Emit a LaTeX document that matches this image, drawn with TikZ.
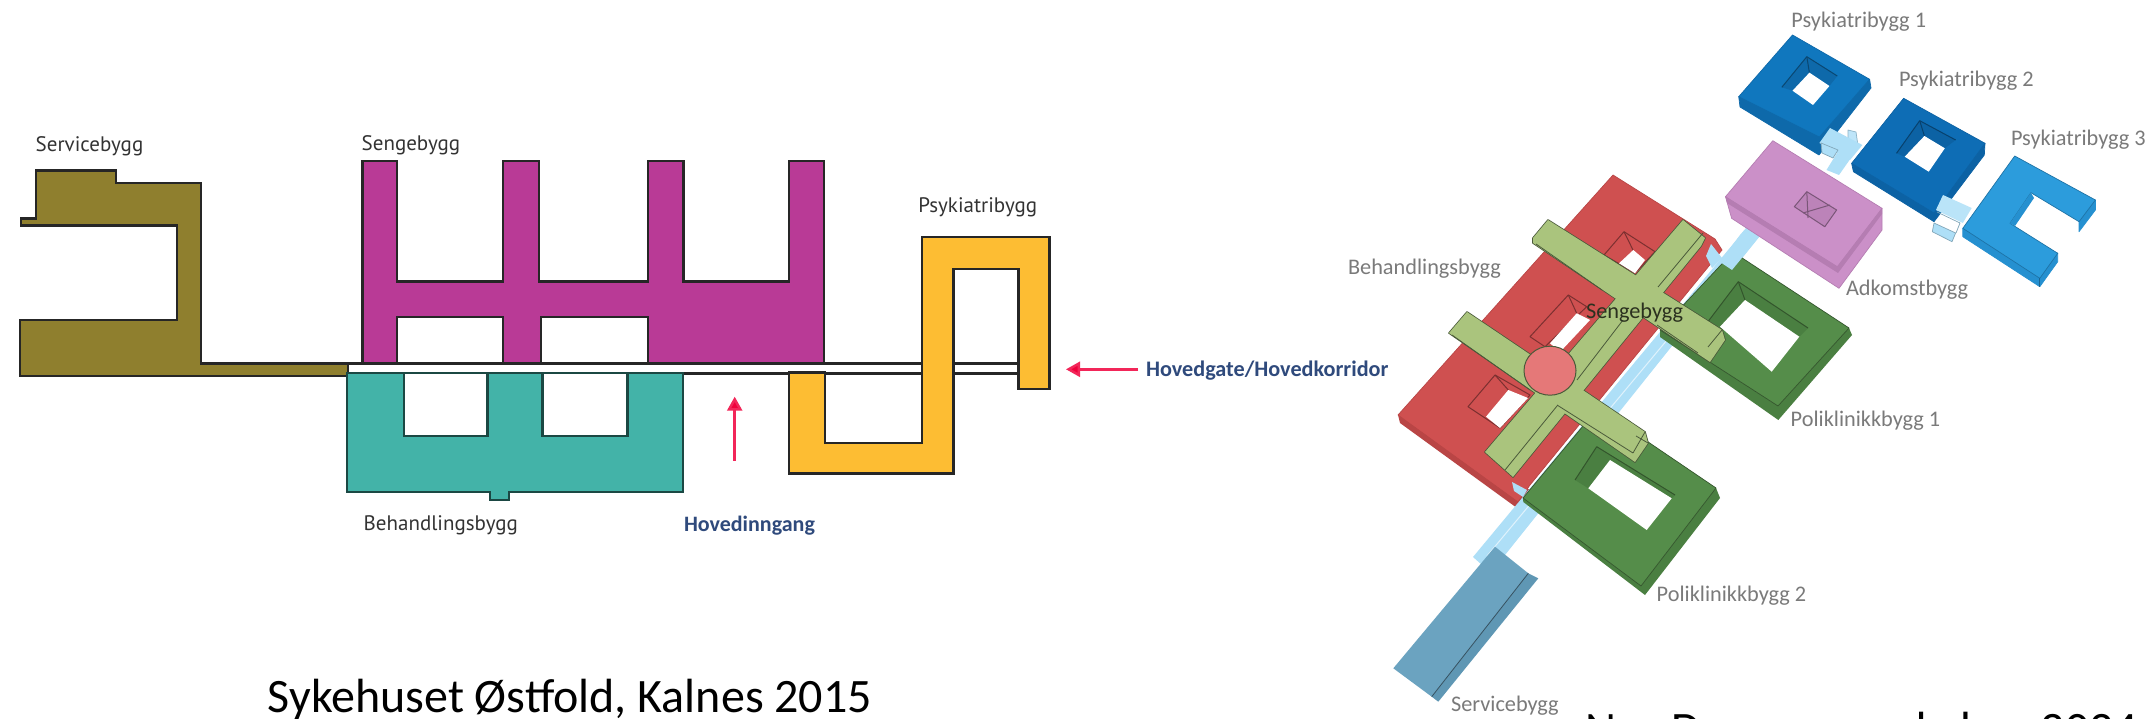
\documentclass[tikz,border=0pt]{standalone}
\usepackage{fontspec}
\setmainfont{Carlito}
\newfontfamily\lblfont{PT Sans}
\usetikzlibrary{arrows.meta}
\definecolor{olivec}{HTML}{8F7F2E}
\definecolor{magc}{HTML}{B93A96}
\definecolor{tealc}{HTML}{43B3A8}
\definecolor{yelc}{HTML}{FDBD33}
\definecolor{arrowc}{HTML}{F0003C}
\definecolor{navyc}{HTML}{2F4A7C}
\definecolor{redc}{HTML}{CF5050}
\definecolor{redd}{HTML}{B94545}
\definecolor{lgreen}{HTML}{AAC47D}
\definecolor{dgreen}{HTML}{558D4A}
\definecolor{dgreens}{HTML}{4A7F41}
\definecolor{pa}{HTML}{1077BE}
\definecolor{pas}{HTML}{0E69AA}
\definecolor{pb}{HTML}{0E6DB5}
\definecolor{pbs}{HTML}{0C62A4}
\definecolor{pc}{HTML}{2C9CDC}
\definecolor{pcs}{HTML}{2590D0}
\definecolor{pinkc}{HTML}{CB90C8}
\definecolor{pinkd}{HTML}{B57DB2}
\definecolor{lblue}{HTML}{AEDFF7}
\definecolor{svc}{HTML}{6BA3C0}
\definecolor{svcs}{HTML}{5F97B4}
\definecolor{circc}{HTML}{E57878}
\definecolor{lineg}{HTML}{4A5A3A}
\tikzset{
  plan/.style={draw=black!85,line width=2.4pt,line join=miter},
  tlab/.style={anchor=base west,inner sep=0pt,outer sep=0pt},
  leftlab/.style={tlab,font=\lblfont\fontsize{21}{24}\selectfont,text=black!80},
  rightlab/.style={tlab,font=\fontsize{22.3}{26}\selectfont,text=black!52},
  captionlab/.style={tlab,font=\fontsize{48}{56}\selectfont,text=black},
  navylab/.style={tlab,font=\bfseries\fontsize{22.2}{26}\selectfont,text=navyc},
  redarrow/.style={draw=arrowc!85!white,line width=2.5pt,-{Triangle[length=14pt,width=15pt,fill=arrowc]}},
  roof/.style={line width=0.7pt,line join=round},
  pitline/.style={draw=black!40!#1,line width=1pt,line join=round},
  hole/.style={fill=white},
}
\begin{document}
\begin{tikzpicture}[x=1pt,y=-1pt]
\useasboundingbox (0,0) rectangle (2152,719);
\clip (0,0) rectangle (2152,719);
\fill[white] (0,0) rectangle (2152,719);

% ------------ left plan ------------
\draw[plan,fill=olivec] (35.7,170.7) -- (116,170.7) -- (116,183.3) -- (200.7,183.3) -- (200.7,363.3) -- (347.7,363.3) -- (347.7,376) -- (20,376) -- (20,320) -- (176.7,320) -- (176.7,225.7) -- (20.7,225.7) -- (20.7,218.7) -- (35.7,218.7) -- cycle;

\draw[plan,fill=magc,even odd rule]
  (362.3,161.3) -- (396.7,161.3) -- (396.7,281.7) -- (503.2,281.7) -- (503.2,161.3) -- (539,161.3) -- (539,281.7) -- (647.9,281.7) -- (647.9,161.3) -- (683.6,161.3) -- (683.6,281.7) -- (789,281.7) -- (789,161.3) -- (824,161.3) -- (824,363.3) -- (362.3,363.3) -- cycle
  (396.7,316.7) rectangle (503.2,363.3)
  (541,316.7) rectangle (647.9,363.3);

% corridor lines
\draw[plan] (347.7,363.3) -- (362.3,363.3);
\draw[plan] (824,363.3) -- (921.7,363.3);
\draw[plan] (953.3,363.3) -- (1018.3,363.3);
\draw[plan] (683,373.3) -- (789,373.3);
\draw[plan] (824.7,373.3) -- (921.7,373.3);
\draw[plan] (953.3,373.3) -- (1018.3,373.3);

\draw[draw=black!60!tealc,line width=2.2pt,fill=tealc,even odd rule]
  (347,373) -- (683,373) -- (683,492.3) -- (508.6,492.3) -- (508.6,500) -- (489.8,500) -- (489.8,492.3) -- (347,492.3) -- cycle
  (403.6,373) rectangle (487.5,435.7)
  (542.5,373) rectangle (627.5,435.7);

\draw[plan,fill=yelc] (921.7,237.3) -- (1049.3,237.3) -- (1049.3,388.7) -- (1018.3,388.7) -- (1018.3,269.3) -- (953.3,269.3) -- (953.3,473.5) -- (789,473.5) -- (789,372.5) -- (824.7,372.5) -- (824.7,443) -- (921.7,443) -- cycle;

\node[leftlab] (lservice) at (35.7,151.7) {Servicebygg};
\node[leftlab] (lsenge) at (361.7,150.7) {Sengebygg};
\node[leftlab] (lpsyk) at (918.3,212.7) {Psykiatribygg};
\node[leftlab] (lbeh) at (363.7,530) {Behandlingsbygg};
\node[navylab,font=\bfseries\fontsize{22}{26}\selectfont] (linng) at (684,531.7) {Hovedinngang};
\node[navylab] (lgate) at (1146,376.7) {Hovedgate/Hovedkorridor};
\coordinate (gatetip) at (1066,369.3);
\coordinate (gatetail) at (1138,369.3);
\coordinate (inntip) at (734.7,396.7);
\coordinate (inntail) at (734.7,460.7);
\draw[redarrow] (gatetail) -- (gatetip);
\draw[redarrow] (inntail) -- (inntip);

\node[captionlab] (capl) at (267.8,712.7) {Sykehuset Østfold, Kalnes 2015};

% ------------ right 3D view ------------
% Behandlingsbygg (red)
\fill[redd] (1398,415) -- (1400,423) -- (1517,508) -- (1530,490) -- cycle;
\draw[roof,draw=redd,fill=redc] (1613,175) -- (1715,239) -- (1722,250) -- (1530,485) -- (1518,502) -- (1398,415) -- cycle;
% red holes
\draw[pitline=redc,fill=redc] (1624,231.7) -- (1655,251.7) -- (1635,273) -- (1604,255) -- cycle;
\draw[pitline=redc] (1624,231.7) -- (1633,250);
\fill[hole] (1633.3,250) -- (1645,260) -- (1635,273.3) -- (1619,263.3) -- cycle;
\draw[pitline=redc,fill=redc] (1568.3,295) -- (1586.7,306.7) -- (1545,346.7) -- (1530,336.7) -- cycle;
\draw[pitline=redc] (1568.3,295) -- (1576.7,313.3);
\fill[hole] (1576.7,313.3) -- (1590,320) -- (1560,352) -- (1550,343.3) -- cycle;
\draw[pitline=redc,fill=redc] (1495,375) -- (1530,395) -- (1500,428) -- (1468,406.7) -- cycle;
\draw[pitline=redc] (1495,375) -- (1508.3,390);
\fill[hole] (1508.3,390) -- (1528,398) -- (1500,428) -- (1486,416.7) -- cycle;

% long corridor
\fill[lblue] (1473,557) -- (1753,220) -- (1759,237) -- (1497,565) -- (1482,565) -- cycle;
\draw[white!60!lblue,line width=1pt] (1487,556) -- (1752,238);
\fill[lblue] (1512,482) -- (1527,490) -- (1523,497) -- (1514,491) -- cycle;
\fill[lblue] (1711,244) -- (1722,258) -- (1712,268) -- (1706,256) -- cycle;

% Poliklinikk 2
\fill[dgreens] (1523,498) -- (1523.3,502) -- (1645,595) -- (1720,498) -- (1716,488) -- (1641,586) -- cycle;
\draw[roof,draw=black!40!dgreen,fill=dgreen] (1598,408) -- (1716,488) -- (1641,586) -- (1523,498) -- cycle;
\fill[dgreens] (1596.7,446.7) -- (1675,495) -- (1671.7,498.3) -- (1610,460) -- (1588.3,488.3) -- (1575,480) -- cycle;
\draw[pitline=dgreen] (1575,480) -- (1596.7,446.7) -- (1675,495);
\fill[hole] (1610,460) -- (1671.7,498.3) -- (1646.7,530) -- (1588.3,488.3) -- cycle;

% Poliklinikk 1
\fill[dgreens] (1660,330) -- (1660,337) -- (1778.3,420) -- (1852,335) -- (1849,328) -- (1778,406) -- cycle;
\draw[roof,draw=black!40!dgreen,fill=dgreen] (1733,252) -- (1849,328) -- (1778,406) -- (1660,330) -- cycle;
\fill[dgreens] (1738.3,281.7) -- (1808,328) -- (1799.3,336.7) -- (1745,300) -- (1720,326.7) -- (1706.7,323.3) -- cycle;
\draw[pitline=dgreen] (1706.7,323.3) -- (1738.3,281.7) -- (1808,328);
\draw[pitline=dgreen] (1738.3,281.7) -- (1745,300);
\fill[hole] (1745,300) -- (1799.3,336.7) -- (1771.7,371.7) -- (1720,326.7) -- cycle;

% Sengebygg (light green cross): outlines first, then fills, so only the outer contour stays
\draw[draw=lineg,line width=1.6pt,line join=round,fill=lgreen]
   (1548,220) -- (1722,330) -- (1725,340) -- (1710,362) -- (1533,243) -- (1533,238) -- cycle;
\draw[draw=lineg,line width=1.6pt,line join=round,fill=lgreen]
   (1683,220) -- (1705,238) -- (1701,246) -- (1513,477) -- (1485,452) -- cycle;
\draw[draw=lineg,line width=1.6pt,line join=round,fill=lgreen]
   (1467,312) -- (1645,432) -- (1648,443) -- (1635,462) -- (1449,333) -- cycle;
\fill[lgreen] (1548,220) -- (1722,330) -- (1725,340) -- (1710,362) -- (1533,243) -- (1533,238) -- cycle;
\fill[lgreen] (1683,220) -- (1705,238) -- (1701,246) -- (1513,477) -- (1485,452) -- cycle;
\fill[lgreen] (1467,312) -- (1645,432) -- (1648,443) -- (1635,462) -- (1449,333) -- cycle;
\draw[draw=lineg,line width=0.8pt]
   (1536,244) -- (1602,290)
   (1657,325) -- (1698,353)
   (1703,233) -- (1658,287)
   (1623,320) -- (1577,380)
   (1557,406) -- (1505,470)
   (1452,335) -- (1530,390)
   (1557,405) -- (1633,453)
   (1648,443) -- (1636,436)
   (1722,330) -- (1708,347)
   (1645,432) -- (1633,453);

% Rotunda
\draw[draw=lineg,line width=1pt,fill=circc] (1550,370.7) ellipse [x radius=26,y radius=24.5];

% Adkomstbygg (pink)
\fill[lblue] (1740,235) -- (1753,220) -- (1759,237) -- (1732,270) -- (1720,262) -- cycle;
\draw[roof,draw=pinkd,fill=pinkc] (1725.5,196.7) -- (1731.6,218.3) -- (1839,288.3) -- (1882,230) -- (1882,208.3) -- (1837.3,266.7) -- cycle;
\draw[roof,draw=pinkd,fill=pinkc] (1772.8,140.7) -- (1882,208.3) -- (1837.3,266.7) -- (1725.5,196.7) -- cycle;
\fill[pinkd] (1725.5,196.7) -- (1837.3,266.7) -- (1882,208.3) -- (1882,214) -- (1838,273) -- (1727,203) -- cycle;
\draw[pitline=pinkc,fill=pinkd!70!pinkc] (1806.8,191.7) -- (1836.6,210) -- (1824.8,226.7) -- (1794.3,206.7) -- cycle;
\draw[pitline=pinkc] (1806.8,191.7) -- (1808,218) (1803,213) -- (1830,205);

% link Psykiatri -> Adkomst
\fill[lblue] (1837,153) -- (1826.5,170) -- (1839,175) -- (1851.6,157) -- cycle;

% Psykiatribygg 1
\draw[roof,draw=pas,fill=pas] (1738.7,96.7) -- (1740,107) -- (1819,155) -- (1871,88) -- (1869.6,79.3) -- (1819.4,137) -- cycle;
\draw[roof,draw=pas,fill=pa] (1792.5,35) -- (1869.6,79.3) -- (1819.4,137) -- (1738.7,96.7) -- cycle;
\fill[pas] (1806.8,56.7) -- (1837.3,76) -- (1829.4,86) -- (1809.4,72.7) -- (1792.5,90.7) -- (1781.8,87.3) -- cycle;
\draw[pitline=pa] (1781.8,87.3) -- (1806.8,56.7) -- (1837.3,76);
\draw[pitline=pa] (1806.8,56.7) -- (1809.4,72.7);
\fill[hole] (1809.4,72.7) -- (1829.4,86) -- (1813,105) -- (1792.5,90.7) -- cycle;

% Psykiatribygg 2
\draw[roof,draw=pbs,fill=pbs] (1851.6,163.3) -- (1853.4,171.7) -- (1934,221.7) -- (1984.3,155) -- (1985,143.3) -- (1934,213) -- cycle;
\draw[roof,draw=pbs,fill=pb] (1903.6,98.3) -- (1985,143.3) -- (1934,213) -- (1851.6,163.3) -- cycle;
\fill[pbs] (1919.7,120.7) -- (1955.6,140) -- (1944.8,148.3) -- (1924.4,136) -- (1904.7,156.7) -- (1896.5,153.3) -- cycle;
\draw[pitline=pb] (1896.5,153.3) -- (1919.7,120.7) -- (1955.6,140);
\draw[pitline=pb] (1919.7,120.7) -- (1924.4,136);
\fill[hole] (1924.4,136) -- (1944.8,148.3) -- (1928.7,171.7) -- (1904.7,156.7) -- cycle;

% links between Psykiatri
\draw[roof,draw=lblue!80!black,fill=lblue!80!white] (1848,130) -- (1856,132) -- (1858,146) -- (1848,142) -- cycle;
\fill[lblue] (1830,128) -- (1862.4,145) -- (1850,160) -- (1819.4,143) -- cycle;
\draw[roof,draw=lblue!75!black,fill=lblue] (1821,143) -- (1838,150) -- (1833,158) -- (1822,153) -- cycle;
\fill[lblue!85!white] (1943,195) -- (1971.7,208) -- (1962.8,223) -- (1935.9,210) -- cycle;
\draw[roof,draw=lblue!75!black,fill=lblue] (1934,223) -- (1955.6,233) -- (1952,241.7) -- (1932.3,231.7) -- cycle;
\draw[roof,draw=lblue!75!black] (1937,212) -- (1960,223) -- (1956,233);

% Psykiatribygg 3
\draw[roof,draw=pcs,fill=pcs] (1962.8,228.3) -- (1962.8,236.7) -- (2039.8,286.7) -- (2057.7,261.7) -- (2057.7,253.3) -- cycle;
\draw[roof,draw=pcs,fill=pcs] (2079,221.7) -- (2079,231.7) -- (2095.4,210) -- (2095.4,200) -- cycle;
\draw[roof,draw=pcs!80!black,fill=pc] (2014.7,156) -- (2095.4,200) -- (2079,221.7) -- (2030.9,192.7) -- (2010,223.3) -- (2057.7,253.3) -- (2039.8,278.3) -- (1962.8,228.3) -- cycle;
\fill[pcs] (2030.9,192.7) -- (2034,198) -- (2015,226) -- (2010,223.3) -- cycle;
\draw[roof,draw=pcs!70!black] (2039.8,278.3) -- (2039.8,286.7);

% Service (blue)
\fill[svcs] (1528.3,573.3) -- (1538.3,578.3) -- (1438.3,701.7) -- (1431.7,696.7) -- cycle;
\fill[svc] (1495,546.7) -- (1528.3,573.3) -- (1431.7,696.7) -- (1393.3,668.3) -- cycle;
\draw[line width=0.8pt,draw=black!50!svc] (1528.3,573.3) -- (1431.7,696.7);

\node[rightlab] (rpsy1) at (1791.4,28) {Psykiatribygg 1};
\node[rightlab] (rpsy2) at (1899,87) {Psykiatribygg 2};
\node[rightlab] (rpsy3) at (2011,146) {Psykiatribygg 3};
\node[rightlab] (radk) at (1846,295) {Adkomstbygg};
\node[rightlab] (rbeh) at (1348,275) {Behandlingsbygg};
\node[rightlab,text=black!75!lgreen] (rsen) at (1586,318) {Sengebygg};
\node[rightlab] (rpol1) at (1790.7,426.7) {Poliklinikkbygg 1};
\node[rightlab] (rpol2) at (1656.7,601.7) {Poliklinikkbygg 2};
\node[rightlab] (rser) at (1451,711.7) {Servicebygg};
\node[captionlab] (capr) at (1585,745) {Nye Drammen sykehus 2024};
\end{tikzpicture}
\end{document}
